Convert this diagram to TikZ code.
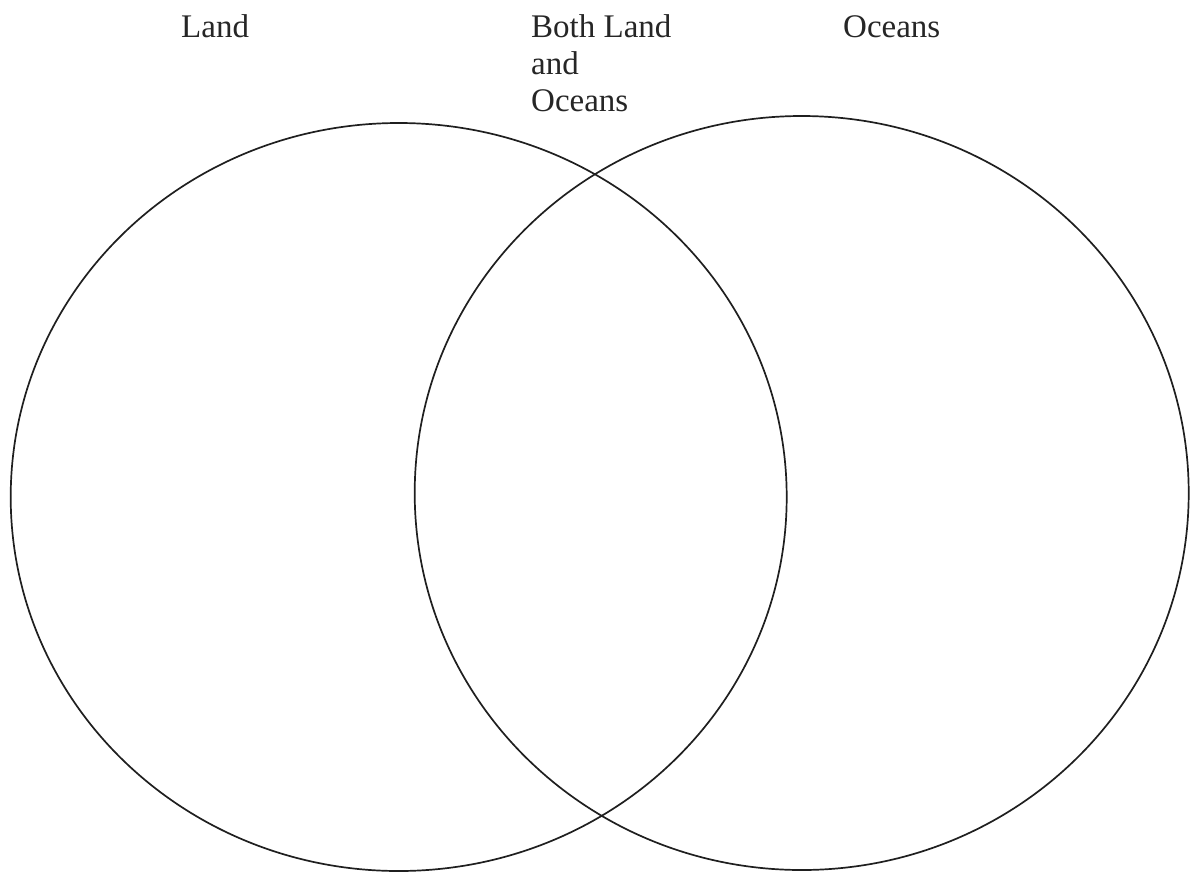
\documentclass[tikz,border=0pt]{standalone}
\usepackage{fontspec}
\setmainfont{Liberation Serif}
\begin{document}
\begin{tikzpicture}[x=1pt,y=-1pt,
  ring/.style={draw=black!88,line width=1.7pt},
  lbl/.style={anchor=base west,inner sep=0pt,font=\fontsize{33}{37}\selectfont,text=black!85,align=left}]
\useasboundingbox (0,0) rectangle (1190,873);
\draw[ring] (398.7,497) ellipse [x radius=388pt, y radius=374pt];
\draw[ring] (801.7,493) ellipse [x radius=387pt, y radius=377pt];
\node[lbl] (land) at (181,37) {Land};
\node[lbl] (both) at (531,111) {Both Land\\and\\Oceans};
\node[lbl] (oceans) at (843,37) {Oceans};
\end{tikzpicture}
\end{document}
